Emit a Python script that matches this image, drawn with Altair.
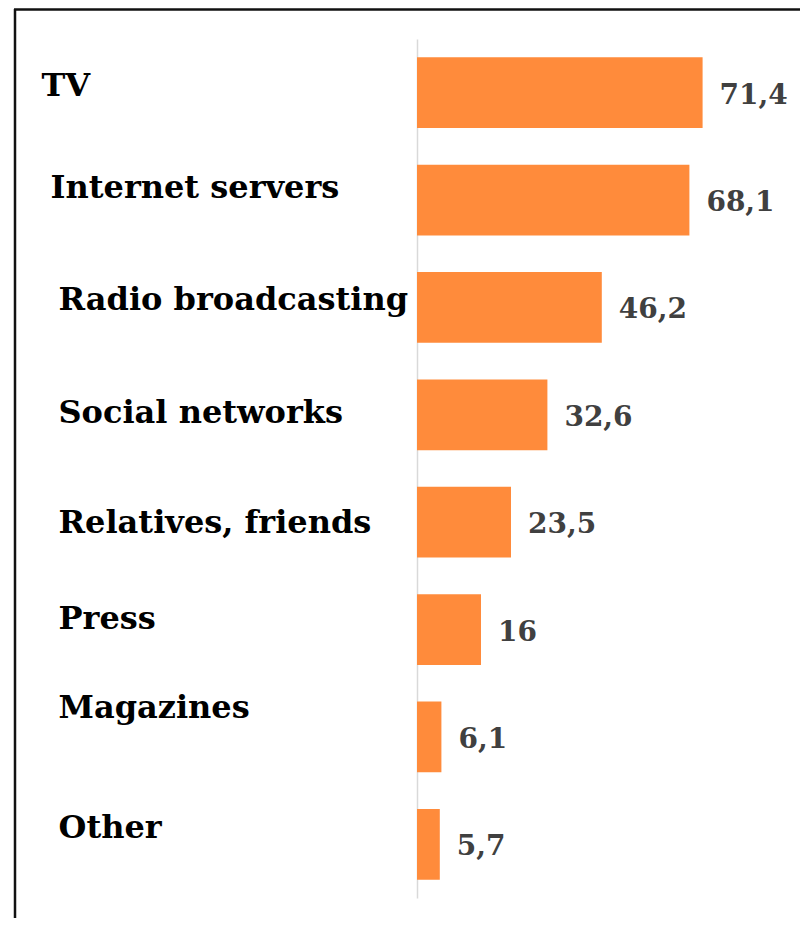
import altair as alt
import pandas as pd

categories = ["TV", "Internet servers", "Radio broadcasting", "Social networks",
              "Relatives, friends", "Press", "Magazines", "Other"]
values = [71.4, 68.1, 46.2, 32.6, 23.5, 16, 6.1, 5.7]

df = pd.DataFrame({"category": categories, "value": values})

FONT = "DejaVu Serif"

label_offset = {
    "condition": [
        {"test": "datum.value === 'TV'", "value": -7},
        {"test": "datum.value === 'Internet servers'", "value": -12},
        {"test": "datum.value === 'Radio broadcasting'", "value": -7},
        {"test": "datum.value === 'Social networks'", "value": -2},
        {"test": "datum.value === 'Relatives, friends'", "value": 1},
        {"test": "datum.value === 'Press'", "value": -11},
        {"test": "datum.value === 'Magazines'", "value": -29},
    ],
    "value": -16,
}
label_padding = {
    "condition": [
        {"test": "datum.value === 'TV'", "value": 376},
        {"test": "datum.value === 'Internet servers'", "value": 367},
    ],
    "value": 359,
}

y_enc = alt.Y(
    "category:N",
    sort=categories,
    scale=alt.Scale(paddingInner=0.34, paddingOuter=0.17),
    axis=alt.Axis(
        title=None, ticks=False, tickSize=0, grid=False,
        domain=True, domainColor="#d9d9d9", domainWidth=1.5,
        labelAlign="left", labelBaseline="middle",
        labelPadding=label_padding, labelOffset=label_offset,
        labelFont=FONT, labelFontWeight="bold", labelFontSize=32,
        labelColor="#000000", labelLimit=0,
    ),
)
x_enc = alt.X("value:Q", scale=alt.Scale(domain=[0, 95.75], nice=False), axis=None)

base = alt.Chart(df)

bars = base.mark_bar(color="#FF8B3B").encode(x=x_enc, y=y_enc)

texts = base.transform_calculate(
    label="replace(toString(datum.value), '.', ',')"
).mark_text(
    align="left", baseline="middle", dx=17, dy=3,
    font=FONT, fontWeight="bold", fontSize=28, color="#404040",
).encode(x=x_enc, y=alt.Y("category:N", sort=categories), text="label:N")

frame_df = pd.DataFrame({"a": [0]})
left_rule = alt.Chart(frame_df).mark_rule(color="#111111", strokeWidth=2.5).encode(
    x=alt.value(-402), y=alt.value(-30), y2=alt.value(900)
)
top_rule = alt.Chart(frame_df).mark_rule(color="#111111", strokeWidth=2.5).encode(
    x=alt.value(-403), x2=alt.value(400), y=alt.value(-29.5)
)

chart = alt.layer(bars, texts, left_rule, top_rule).properties(
    width=383, height=859,
    autosize=alt.AutoSizeParams(type="none"),
    padding={"left": 409, "top": 31, "right": 0, "bottom": 20},
).configure_view(stroke=None)

chart.save("out.html", embed_options={"renderer": "svg", "actions": False})
